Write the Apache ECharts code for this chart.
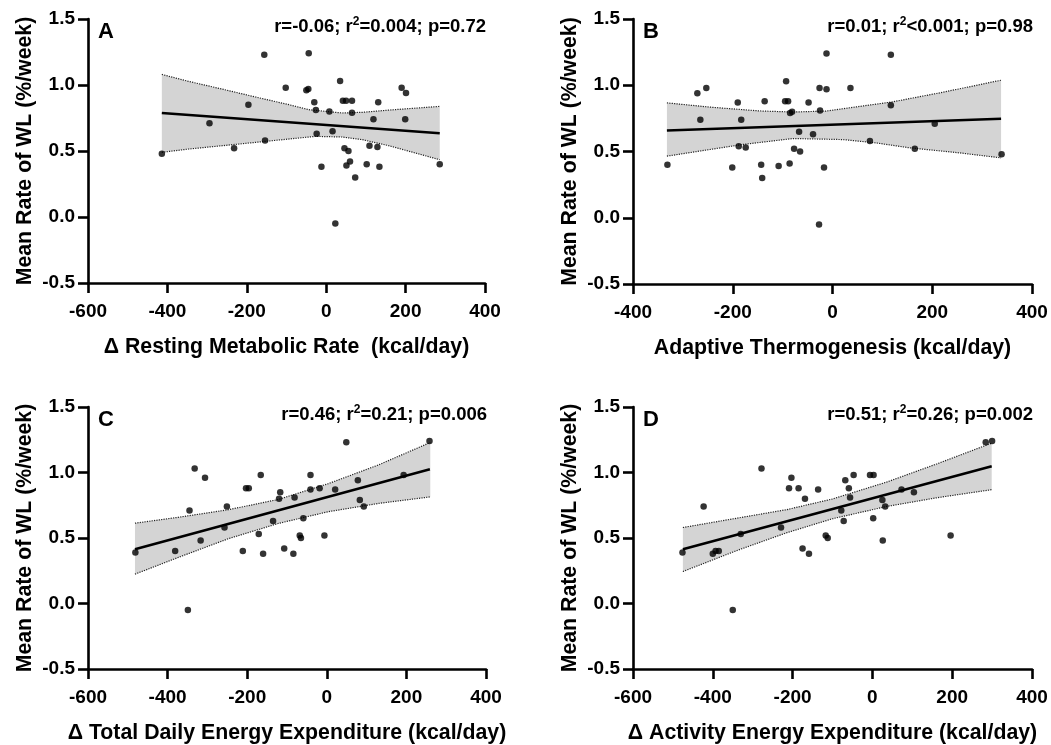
<!DOCTYPE html>
<html><head><meta charset="utf-8">
<script src="https://cdn.jsdelivr.net/npm/echarts@6/dist/echarts.min.js"></script>
<style>html,body{margin:0;padding:0;background:#fff}#c{width:1051px;height:745px}</style>
</head><body><div id="c"></div>
<script>
// ---------- Panel A: Δ Resting Metabolic Rate ----------
const xA=[-414,-294,-232,-196,-156,-154,-102,-50,-45,-44,-30,-26,-24,-12,8,16,23,35,42,50,46,51,56,60,65,65,73,102,109,119,129,131,134,190,201,199,286];
const yA=[0.48,0.71,0.52,0.85,1.23,0.58,0.98,0.96,0.97,1.24,0.87,0.81,0.63,0.38,0.80,0.65,-0.05,1.03,0.88,0.88,0.52,0.39,0.50,0.42,0.88,0.79,0.30,0.40,0.54,0.74,0.53,0.87,0.38,0.98,0.94,0.74,0.40];
const fitA=[[-414,0.788],[286,0.634]];
const upA=[[-414,1.08],[-346,1.027],[-262,0.969],[-178,0.909],[-94,0.851],[-44,0.813],[40,0.788],[91,0.793],[158,0.81],[286,0.838]];
const loA=[[-414,0.49],[-346,0.515],[-262,0.54],[-153,0.573],[-27,0.611],[40,0.606],[91,0.586],[158,0.54],[286,0.434]];

// ---------- Panel B: Adaptive Thermogenesis ----------
const xB=[-331,-271,-265,-253,-201,-190,-188,-183,-174,-143,-141,-136,-108,-95,-93,-89,-86,-85,-81,-77,-67,-65,-48,-39,-27,-26,-25,-17,-12,-12,36,75,117,117,165,205,339];
const yB=[0.40,0.94,0.74,0.98,0.38,0.87,0.54,0.74,0.53,0.40,0.30,0.88,0.39,0.88,1.03,0.88,0.41,0.79,0.80,0.52,0.65,0.50,0.87,0.63,-0.05,0.98,0.81,0.38,1.24,0.97,0.98,0.58,1.23,0.85,0.52,0.71,0.48];
const fitB=[[-332,0.658],[338,0.747]];
const upB=[[-332,0.867],[-246,0.835],[-146,0.806],[-79,0.798],[-13,0.805],[54,0.84],[121,0.875],[221,0.947],[338,1.038]];
const loB=[[-332,0.465],[-246,0.515],[-180,0.553],[-79,0.598],[21,0.59],[87,0.565],[154,0.528],[254,0.49],[338,0.452]];

// ---------- Panel C: Δ Total Daily Energy Expenditure ----------
const xC=[-481,-381,-349,-345,-332,-317,-306,-257,-251,-211,-203,-196,-171,-166,-160,-135,-120,-117,-107,-84,-81,-68,-65,-59,-41,-41,-18,-6,21,49,78,83,93,193,258];
const yC=[0.39,0.40,-0.05,0.71,1.03,0.48,0.96,0.58,0.74,0.40,0.88,0.88,0.53,0.98,0.38,0.63,0.80,0.85,0.42,0.38,0.81,0.52,0.50,0.65,0.98,0.87,0.88,0.52,0.87,1.23,0.94,0.79,0.74,0.98,1.24];
const fitC=[[-482,0.415],[259,1.024]];
const upC=[[-482,0.613],[-373,0.658],[-247,0.716],[-122,0.794],[4,0.915],[130,1.058],[260,1.229]];
const loC=[[-482,0.224],[-373,0.352],[-247,0.495],[-122,0.611],[4,0.701],[130,0.764],[260,0.814]];

// ---------- Panel D: Δ Activity Energy Expenditure ----------
const xD=[-476,-423,-400,-393,-385,-350,-330,-278,-229,-209,-203,-185,-175,-169,-159,-136,-117,-112,-78,-72,-68,-59,-56,-47,-6,3,2,25,26,32,73,104,196,284,300];
const yD=[0.39,0.74,0.38,0.40,0.40,-0.05,0.53,1.03,0.58,0.88,0.96,0.88,0.42,0.80,0.38,0.87,0.52,0.50,0.71,0.63,0.94,0.88,0.81,0.98,0.98,0.98,0.65,0.79,0.48,0.74,0.87,0.85,0.52,1.23,1.24];
const fitD=[[-475,0.415],[299,1.048]];
const upD=[[-475,0.58],[-340,0.651],[-214,0.717],[-100,0.798],[36,0.927],[161,1.065],[299,1.224]];
const loD=[[-475,0.244],[-340,0.404],[-214,0.541],[-100,0.647],[36,0.741],[161,0.807],[299,0.869]];

// ---------- labels ----------
const letters=['A','B','C','D'];
const stats=['r=-0.06; r{s|2}=0.004; p=0.72','r=0.01; r{s|2}<0.001; p=0.98','r=0.46; r{s|2}=0.21; p=0.006','r=0.51; r{s|2}=0.26; p=0.002'];
const xNames=['\u0394 Resting Metabolic Rate  (kcal/day)','Adaptive Thermogenesis (kcal/day)','\u0394 Total Daily Energy Expenditure (kcal/day)','\u0394 Activity Energy Expenditure (kcal/day)'];
const yName='Mean Rate of WL (%/week)';
const xMins=[-600,-400,-600,-600];

const FONT='"Liberation Sans", Arial, sans-serif';
const grids=[
  {left:88,top:19,width:397,height:264},
  {left:633,top:19,width:399,height:265},
  {left:88,top:407,width:398,height:265},
  {left:633,top:407,width:399,height:265}
];
const sets=[
  {x:xA,y:yA,fit:fitA,up:upA,lo:loA},
  {x:xB,y:yB,fit:fitB,up:upB,lo:loB},
  {x:xC,y:yC,fit:fitC,up:upC,lo:loC},
  {x:xD,y:yD,fit:fitD,up:upD,lo:loD}
];

const axisLine={lineStyle:{color:'#000',width:2.6}};
const axisTick={length:10,lineStyle:{color:'#000',width:2.6}};
const xAxis=[],yAxis=[],series=[],title=[];
sets.forEach((s,i)=>{
  const g=grids[i];
  xAxis.push({type:'value',gridIndex:i,min:xMins[i],max:400,interval:200,
    axisLine:{...axisLine,onZero:false},axisTick,splitLine:{show:false},
    axisLabel:{color:'#000',fontSize:19,fontWeight:'bold',fontFamily:FONT,margin:19},
    name:xNames[i],nameLocation:'middle',nameGap:54,
    nameTextStyle:{color:'#000',fontSize:21.3,fontWeight:'bold',fontFamily:FONT}});
  yAxis.push({type:'value',gridIndex:i,min:-0.5,max:1.5,interval:0.5,
    axisLine:{...axisLine,onZero:false},axisTick,splitLine:{show:false},
    axisLabel:{color:'#000',fontSize:19,fontWeight:'bold',fontFamily:FONT,margin:13,formatter:v=>v.toFixed(1)},
    name:yName,nameLocation:'middle',nameGap:52,
    nameTextStyle:{color:'#000',fontSize:21.3,fontWeight:'bold',fontFamily:FONT}});
  const up=s.up, lo=s.lo;
  series.push({type:'custom',xAxisIndex:i,yAxisIndex:i,z:1,silent:true,
    data:[[up[0][0],up[0][1]]],encode:{x:0,y:1},
    renderItem:function(params,api){
      const pts=[];
      up.forEach(p=>pts.push(api.coord(p)));
      for(let k=lo.length-1;k>=0;k--) pts.push(api.coord(lo[k]));
      return {type:'polygon',shape:{points:pts},style:{fill:'#d4d4d4'}};
    }});
  [up,lo].forEach(b=>series.push({type:'line',xAxisIndex:i,yAxisIndex:i,z:2,data:b,symbol:'none',
    lineStyle:{color:'#222',width:1.2,type:'dotted'},silent:true}));
  series.push({type:'line',xAxisIndex:i,yAxisIndex:i,z:3,data:s.fit,symbol:'none',
    lineStyle:{color:'#000',width:2.6},silent:true});
  series.push({type:'scatter',xAxisIndex:i,yAxisIndex:i,z:4,symbolSize:6.5,
    itemStyle:{color:'#000'},data:s.x.map((v,k)=>[v,s.y[k]])});
  title.push({text:letters[i],left:g.left+10,top:g.top+2,padding:0,
    textStyle:{color:'#000',fontSize:22,fontWeight:'bold',fontFamily:FONT}});
  title.push({text:stats[i],right:1051-(g.left+g.width)-1,top:g.top-3,padding:0,
    textStyle:{color:'#000',fontSize:18.5,fontWeight:'bold',fontFamily:FONT,lineHeight:21,
      rich:{s:{fontSize:12,fontWeight:'bold',fontFamily:FONT,verticalAlign:'top',lineHeight:13,color:'#000'}}}});
});

const chart=echarts.init(document.getElementById('c'),null,{renderer:'canvas'});
chart.setOption({animation:false,backgroundColor:'#fff',textStyle:{fontFamily:FONT},
  grid:grids,xAxis,yAxis,series,title});
</script></body></html>
